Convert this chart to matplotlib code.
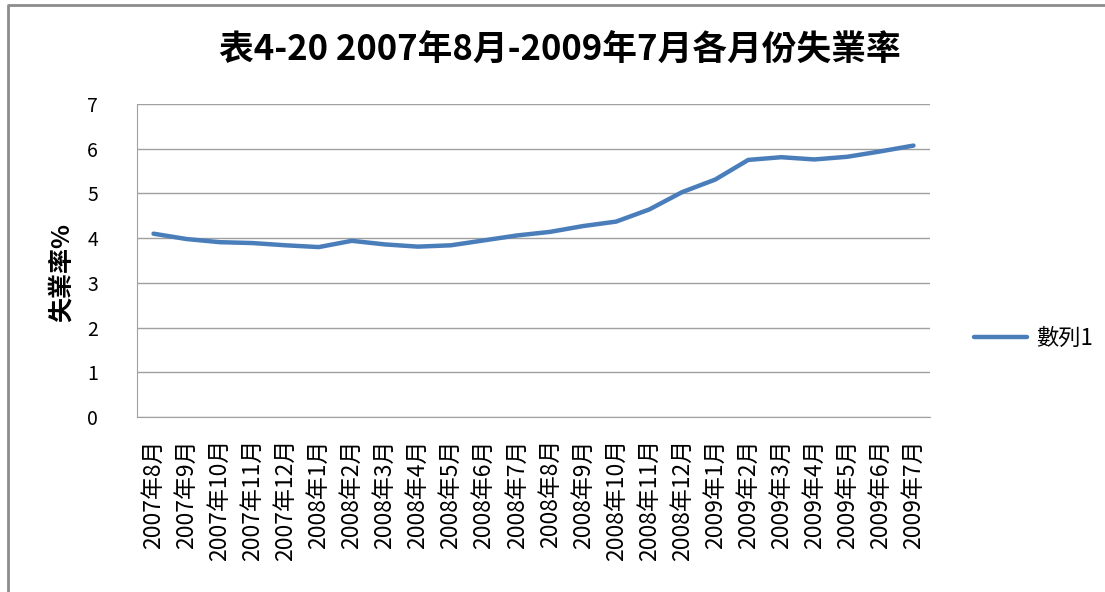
import numpy as np
import matplotlib.pyplot as plt
from matplotlib.lines import Line2D

plt.rcParams['font.family'] = ['Noto Sans CJK TC', 'DejaVu Sans']

# 月份標籤
months = ['2007年8月', '2007年9月', '2007年10月', '2007年11月', '2007年12月',
          '2008年1月', '2008年2月', '2008年3月', '2008年4月', '2008年5月',
          '2008年6月', '2008年7月', '2008年8月', '2008年9月', '2008年10月',
          '2008年11月', '2008年12月', '2009年1月', '2009年2月', '2009年3月',
          '2009年4月', '2009年5月', '2009年6月', '2009年7月']
# 失業率 (%)
rates = [4.10, 3.98, 3.91, 3.89, 3.84, 3.80, 3.94, 3.86, 3.81, 3.84,
         3.95, 4.06, 4.14, 4.27, 4.37, 4.64, 5.03, 5.31, 5.75, 5.81,
         5.76, 5.82, 5.94, 6.07]
y_ticks = [0, 1, 2, 3, 4, 5, 6, 7]

fig = plt.figure(figsize=(11.05, 5.92), dpi=100)
ax = fig.add_axes([137 / 1105, 1 - 417 / 592, (930 - 137) / 1105, (417 - 104) / 592])

# 外框 (只看得到上邊和左邊)
fig.lines.append(Line2D([8 / 1105, 8 / 1105, 1.0], [0.0, 1 - 5 / 592, 1 - 5 / 592],
                        transform=fig.transFigure, color='#8c8c8c', linewidth=2))

x = np.arange(len(months))
ax.plot(x, rates, color='#4a7ebb', linewidth=3.2, solid_capstyle='round', label='數列1')

ax.set_xlim(-0.5, len(months) - 0.5)
ax.set_ylim(0, 7)
ax.set_yticks(y_ticks)
ax.set_yticklabels([str(v) for v in y_ticks], fontsize=14)
ax.set_xticks(x)
ax.set_xticklabels(months, rotation=90, fontsize=16.5)
ax.grid(axis='y', color='#a0a0a0', linewidth=1)
ax.set_axisbelow(True)
for s in ['top', 'right']:
    ax.spines[s].set_visible(False)
ax.spines['left'].set_color('#a0a0a0')
ax.spines['bottom'].set_color('#a0a0a0')
ax.tick_params(axis='y', length=0, pad=28)
ax.tick_params(axis='x', length=0, pad=16)

fig.text(560 / 1105, 1 - 50 / 592, '表4-20 2007年8月-2009年7月各月份失業率',
         ha='center', va='center', fontsize=25, fontweight='bold')
fig.text(62 / 1105, 1 - 272 / 592, '失業率%', rotation=90, ha='center', va='center',
         fontsize=18, fontweight='bold')

ax.legend(loc='center left', bbox_to_anchor=(1.03, 0.25), frameon=False,
          fontsize=16, handlelength=2.4, handletextpad=0.4)

fig.savefig('out.png', dpi=100)
